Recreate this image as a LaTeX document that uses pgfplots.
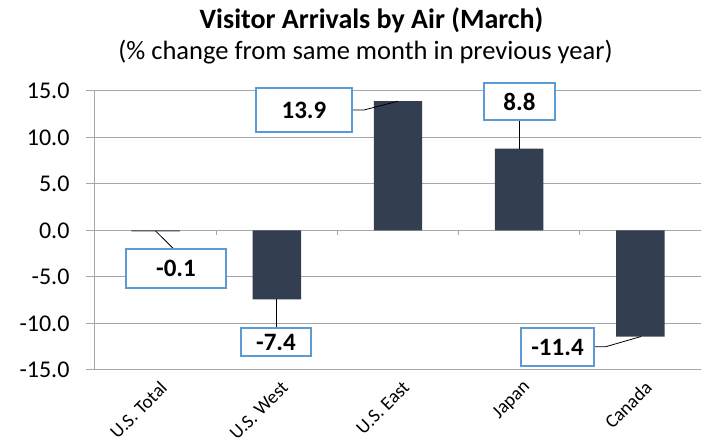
\documentclass[border=0pt]{standalone}
\usepackage{pgfplots}
\pgfplotsset{compat=1.18}
\usepackage{fontspec}
\setmainfont{Carlito}
\definecolor{barc}{HTML}{333F50}
\definecolor{boxc}{HTML}{5B9BD5}
\definecolor{gridc}{HTML}{A6A6A6}
\begin{document}
\begin{tikzpicture}[x=1pt,y=1pt]
\useasboundingbox (-95,-74) rectangle (615,370);
\begin{axis}[
  at={(0,0)}, anchor=south west,
  scale only axis, width=606pt, height=279pt,
  xmin=-0.5, xmax=4.5, ymin=-15, ymax=15,
  axis x line*=bottom, axis y line*=left,
  axis line style={gridc, line width=1pt},
  xtick={0,1,2,3,4},
  xticklabels={U.S. Total, U.S. West, U.S. East, Japan, Canada},
  major x tick style={draw=none},
  xticklabel style={rotate=45, anchor=east, xshift=-1pt, yshift=-16pt, font=\fontsize{19}{19}\selectfont},
  ytick={-15,-10,-5,0,5,10,15},
  yticklabels={-15.0,-10.0,-5.0,0.0,5.0,10.0,15.0},
  ytick align=outside, major tick length=9pt,
  major y tick style={gridc, line width=1pt},
  yticklabel style={font=\fontsize{24}{24}\selectfont, xshift=-13pt},
  ymajorgrids, grid style={gridc, line width=1pt},
  clip=false,
]
\addplot[ybar, fill=barc, draw=none, bar width=0.4] coordinates {(0,-0.1) (1,-7.4) (2,13.9) (3,8.8) (4,-11.4)};
% boundary ticks on zero line
\draw[gridc, line width=1pt] (axis cs:0.5,0) -- ++(0pt,-5pt);
\draw[gridc, line width=1pt] (axis cs:1.5,0) -- ++(0pt,-5pt);
\draw[gridc, line width=1pt] (axis cs:2.5,0) -- ++(0pt,-5pt);
\draw[gridc, line width=1pt] (axis cs:3.5,0) -- ++(0pt,-5pt);
% leader lines
\draw[black, line width=0.8pt] (axis cs:0.15,-1.99) -- (axis cs:0.0,-0.05);
\draw[black, line width=0.8pt] (axis cs:1.0,-10.48) -- (axis cs:1.0,-7.4);
\draw[black, line width=0.8pt] (axis cs:1.62,12.96) -- (axis cs:1.72,12.96) -- (axis cs:2.0,13.9);
\draw[black, line width=0.8pt] (axis cs:3.0,11.88) -- (axis cs:3.0,8.8);
\draw[black, line width=0.8pt] (axis cs:3.617,-12.49) -- (axis cs:3.716,-12.49) -- (axis cs:4.005,-11.4);
% label boxes
\tikzset{lbl/.style={draw=boxc, line width=2pt, fill=white, inner sep=0pt, font=\bfseries\fontsize{25}{25}\selectfont}}
\node[lbl, minimum width=100pt, minimum height=39pt] at (axis cs:0.168,-4.09) {-0.1};
\node[lbl, minimum width=70pt, minimum height=28pt] at (axis cs:0.993,-11.99) {-7.4};
\node[lbl, minimum width=96pt, minimum height=44pt] at (axis cs:1.224,12.96) {13.9};
\node[lbl, minimum width=71pt, minimum height=37pt] at (axis cs:3.002,13.87) {8.8};
\node[lbl, minimum width=73pt, minimum height=38pt] at (axis cs:3.316,-12.53) {-11.4};
\end{axis}
\node[anchor=base, font=\bfseries\fontsize{28}{28}\selectfont] at (276.5,341) {Visitor Arrivals by Air (March)};
\node[anchor=base, font=\fontsize{26.5}{26.5}\selectfont] at (270.5,310) {(\% change from same month in previous year)};
\end{tikzpicture}
\end{document}
